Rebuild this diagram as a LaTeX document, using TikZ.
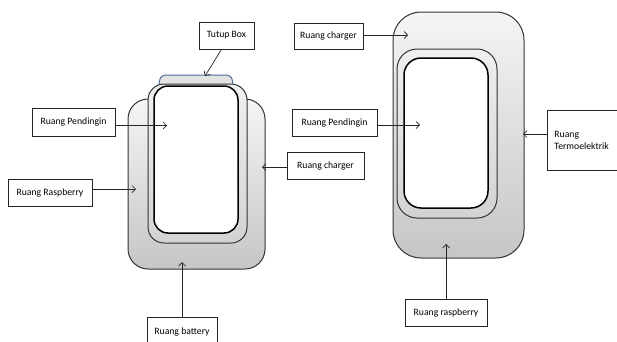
\documentclass[tikz,border=0pt]{standalone}
\usepackage{fontspec}
\setmainfont{Carlito}
\usetikzlibrary{arrows.meta}
\definecolor{lidblue}{RGB}{79,110,160}
\begin{document}
\begin{tikzpicture}[x=1pt,y=-1pt,
  lbl/.style={draw=black!85,line width=0.8pt,fill=white,font=\fontsize{9.7}{12}\selectfont,
    inner xsep=6pt,inner ysep=2pt,align=left,anchor=center},
  arr/.style={draw=black!85,line width=0.7pt,-{Straight Barb[length=3.5pt,width=7pt]}},
  outerbox/.style={draw=black!80,line width=1pt,top color=gray!8,bottom color=gray!45},
  midbox/.style={draw=black!80,line width=1pt,top color=gray!12,bottom color=gray!35},
  innerbox/.style={draw=black,line width=1.5pt,fill=white}]
\useasboundingbox (0,0) rectangle (617,341);
\fill[white] (0,0) rectangle (617,341);

% ---------- left diagram ----------
\draw[outerbox,rounded corners=20pt] (128,99) rectangle (265,269);
\fill[gray!22] (159,85) .. controls (160,77) .. (165,75) -- (227,75) .. controls (232,77) .. (233,85) -- cycle;
\draw[lidblue,line width=1pt] (159,85) .. controls (160,77) .. (165,75) -- (227,75) .. controls (232,77) .. (233,85);
\draw[midbox,rounded corners=16pt] (148,84) rectangle (247,243);
\draw[innerbox,rounded corners=14pt] (154,86) rectangle (238,233);

\node[lbl,minimum width=55,minimum height=27] (tutup) at (226.5,35.5) {Tutup Box};
\node[lbl,minimum width=83,minimum height=28] (pendL) at (73.5,122) {Ruang Pendingin};
\node[lbl,minimum width=84,minimum height=27] (raspL) at (50,192.5) {Ruang Raspberry};
\node[lbl,minimum width=77,minimum height=27] (chargL) at (325.5,165.5) {Ruang charger};
\node[lbl,minimum width=70,minimum height=29] (batt) at (182,331.5) {Ruang battery};

\coordinate (tL) at (205,76);
\coordinate (pL) at (167,125.5);
\coordinate (rL) at (136,189);
\coordinate (cL) at (262,167);
\coordinate (bL) at (182,262);
\draw[arr] ([xshift=-5pt]tutup.south) -- (tL);
\draw[arr] (pL -| pendL.east) -- (pL);
\draw[arr] (rL -| raspL.east) -- (rL);
\draw[arr] (cL -| chargL.west) -- (cL);
\draw[arr] (batt.north) -- (bL);

% ---------- right diagram ----------
\draw[outerbox,rounded corners=28pt] (393,12) rectangle (524,258);
\draw[midbox,rounded corners=20pt] (397,49) rectangle (497,218);
\draw[innerbox,rounded corners=17pt] (404,58) rectangle (488,208);

\node[lbl,minimum width=69,minimum height=26] (chargR) at (328.5,36) {Ruang charger};
\node[lbl,minimum width=85,minimum height=27] (pendR) at (334.5,122.5) {Ruang Pendingin};
\node[lbl,minimum width=80,minimum height=60,text width=66pt,anchor=north west,inner ysep=8pt] (termo) at (547,110) {Ruang\\Termoelektrik\\[9pt]};
\node[lbl,minimum width=82,minimum height=27] (raspR) at (446,312.5) {Ruang raspberry};

\coordinate (cR) at (408,35);
\coordinate (pR) at (420,125);
\coordinate (tR) at (523,134);
\coordinate (rR) at (446,244);
\draw[arr] (cR -| chargR.east) -- (cR);
\draw[arr] (pR -| pendR.east) -- (pR);
\draw[arr] (tR -| termo.west) -- (tR);
\draw[arr] (raspR.north) -- (rR);
\end{tikzpicture}
\end{document}
